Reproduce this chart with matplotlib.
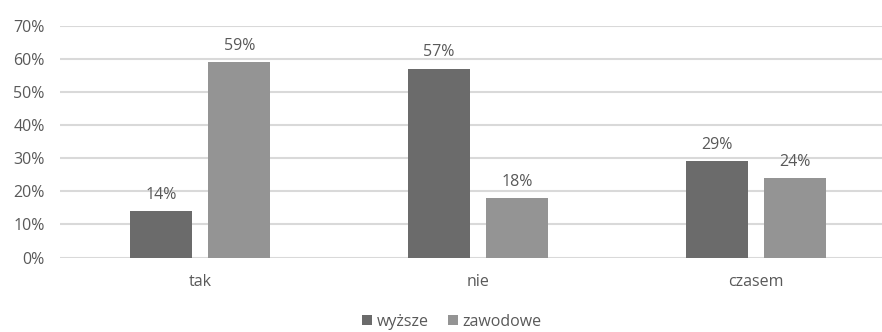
import matplotlib
matplotlib.use("Agg")
import matplotlib.pyplot as plt
import numpy as np

categories = ["tak", "nie", "czasem"]
series_names = ["wyższe", "zawodowe"]
wyzsze = [0.14, 0.57, 0.29]
zawodowe = [0.59, 0.18, 0.24]

COL_DARK = "#6b6b6b"
COL_LIGHT = "#949494"
TXT = "#595959"
GRID = "#d9d9d9"

plt.rcParams["font.family"] = ["Open Sans", "DejaVu Sans"]

W, H = 882, 332
fig = plt.figure(figsize=(W / 100, H / 100), dpi=100)
ax = fig.add_axes([60 / W, 1 - 257.5 / H, (W - 60) / W, (257.5 - 25.5) / H])

x = np.arange(len(categories))
bw = 0.223
off = 0.141
b1 = ax.bar(x - off, wyzsze, bw, color=COL_DARK, label=series_names[0], zorder=3)
b2 = ax.bar(x + off, zawodowe, bw, color=COL_LIGHT, label=series_names[1], zorder=3)

# value labels above each bar
for bars, vals in ((b1, wyzsze), (b2, zawodowe)):
    for r, v in zip(bars, vals):
        ax.annotate(f"{v:.0%}", (r.get_x() + r.get_width() / 2, v),
                    xytext=(0, 6), textcoords="offset points",
                    ha="center", va="bottom", fontsize=11.5, color=TXT)

ax.set_xlim(-0.504, 2.453)
ax.set_ylim(0, 0.70)
yt = np.arange(0, 0.71, 0.10)
ax.set_yticks(yt)
ax.set_yticklabels([f"{t:.0%}" for t in yt])
ax.set_xticks(x)
ax.set_xticklabels(categories)
ax.tick_params(axis="both", length=0, colors=TXT, labelsize=11.5)
ax.tick_params(axis="x", pad=12)
ax.tick_params(axis="y", pad=11)

ax.grid(axis="y", color=GRID, linewidth=1.5, zorder=0)
for s in ax.spines.values():
    s.set_visible(False)

fig.legend(handles=[b1, b2], loc="center", bbox_to_anchor=(452 / W, 1 - 322 / H),
           ncol=2, frameon=False, fontsize=11.5, labelcolor=TXT,
           handlelength=0.6, handleheight=0.6, handletextpad=0.3, columnspacing=1.2)

fig.savefig("out.png", dpi=100)
